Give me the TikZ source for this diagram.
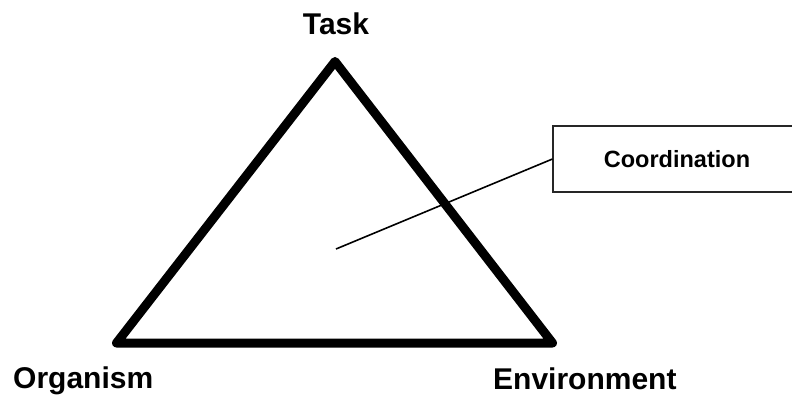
\documentclass[tikz,border=0pt]{standalone}
\usepackage{fontspec}
\setmainfont{Liberation Sans}
\begin{document}
\begin{tikzpicture}[x=1pt,y=-1pt,
  corner/.style={font=\fontsize{30}{34}\selectfont\bfseries, inner sep=0pt, anchor=base},
  labelbox/.style={draw=black!85, line width=1.1pt, fill=white,
    minimum width=248pt, minimum height=66pt, inner sep=0pt,
    font=\fontsize{23.5}{28}\selectfont\bfseries},
  edge/.style={line width=9pt, line join=round, line cap=round},
  pointer/.style={line width=1.6pt}]
  \useasboundingbox (0,0) rectangle (792,398);
  \clip (0,0) rectangle (792,398);

  % triangle corners
  \coordinate (T) at (335,61.5);
  \coordinate (O) at (116.5,343);
  \coordinate (E) at (552.5,343);
  \draw[edge] (T) -- (O) -- (E) -- cycle;

  % corner labels
  \node[corner] (task) at (336,35) {Task};
  \node[corner, anchor=base west] (org) at (13,388) {Organism};
  \node[corner, anchor=base west] (env) at (493,389) {Environment};

  % callout box, running off the right edge
  \node[labelbox] (coord) at (677,159) {Coordination};
  \coordinate (inside) at (336,249);
  \draw[pointer] (inside) -- (coord.west);
\end{tikzpicture}
\end{document}
